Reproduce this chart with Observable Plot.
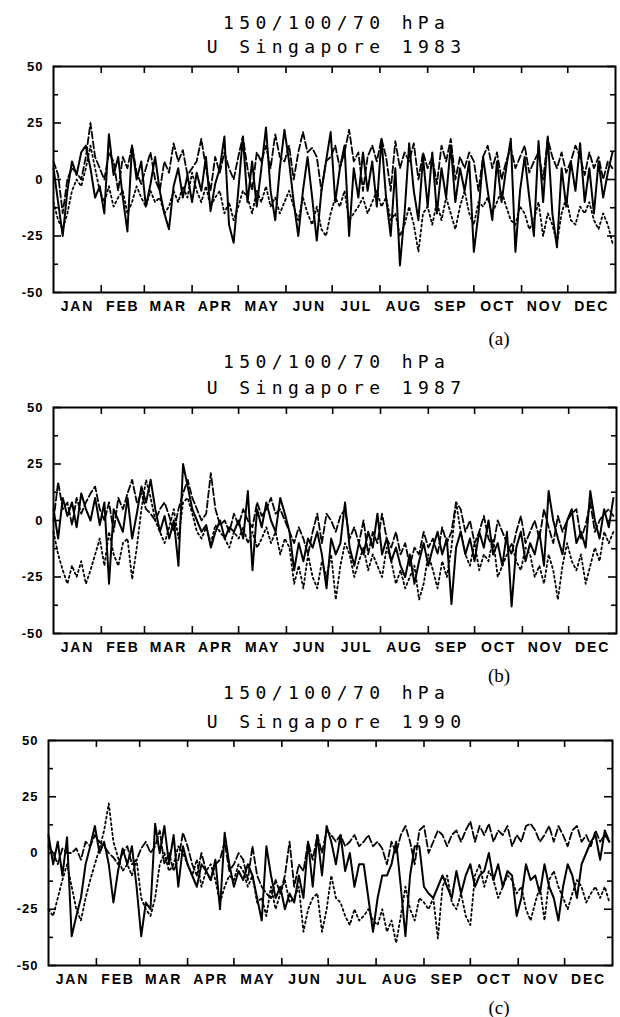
<!DOCTYPE html>
<html><head><meta charset="utf-8">
<script src="https://cdn.jsdelivr.net/npm/d3@7"></script>
<script src="https://cdn.jsdelivr.net/npm/@observablehq/plot@0.6"></script>
<style>
html,body{margin:0;padding:0;background:#fff;}
#root{position:relative;width:620px;height:1017px;overflow:hidden;}
.title{position:absolute;left:334px;transform:translate(-50%,-50%);font-family:"DejaVu Sans Mono",monospace;font-size:18px;letter-spacing:5.4px;padding-left:5.4px;white-space:nowrap;color:#000;line-height:1;}
.tag{position:absolute;transform:translate(-50%,-50%);font-family:"Liberation Serif",serif;font-size:19px;color:#000;line-height:1;}
.plot{position:absolute;left:0;}
.plot svg text{font-family:"Liberation Sans",Arial,sans-serif;font-weight:bold;fill:#000;}
.plot g[aria-label="x-axis tick label"] text{letter-spacing:1.8px;}
.plot g[aria-label="y-axis tick label"] text{letter-spacing:1px;}
</style></head><body><div id="root"></div>
<script>
// ---- sampling (every 3rd day of the year) ----
const sampleDays = d3.range(0, 364, 3);

// ---- tick / label arrays ----
const monthNames = ["JAN","FEB","MAR","APR","MAY","JUN","JUL","AUG","SEP","OCT","NOV","DEC"];
const monthStarts = [0,31,59,90,120,151,181,212,243,273,304,334,365];
const monthMid = [15.5,45,74.5,105,135.5,166,196.5,227.5,258,288.5,319,349.5];
const yMajor = [-50,-25,0,25,50];
const yMinor = [-37.5,-12.5,12.5,37.5];
const levels = "150/100/70 hPa";

// ---- 1983 (a) zonal wind, m/s ----
const aSolid = [5,-10,-25,-5,8,2,12,15,5,-8,
 -3,-15,20,2,10,-8,-23,15,0,8,
 -12,-2,10,-5,-15,-22,-3,5,-8,2,
 -10,3,-5,10,-14,-2,5,19,-20,-28,
 -5,19,-10,8,-12,5,23,-5,-18,5,
 22,8,-10,-25,-5,10,-8,-27,-5,8,
 21,-10,5,15,-25,5,-8,12,-5,8,
 -12,18,-8,-25,5,-38,-15,16,-5,-18,
 10,-12,12,-15,5,-8,15,-10,5,-5,
 8,-32,-15,10,-5,-18,8,-10,5,18,
 -32,-5,10,-8,-25,17,-10,19,-15,-30,
 5,-12,8,-5,16,-10,5,-15,8,-8,
 3,12];
const aDashed = [8,2,-15,0,5,3,0,10,25,10,
 5,0,12,8,-5,10,5,15,3,-2,
 5,12,0,-5,8,3,16,8,13,2,
 5,8,18,5,-5,10,3,12,5,0,
 10,19,5,-5,12,8,15,5,20,10,
 8,15,0,12,21,12,14,10,-5,8,
 10,15,5,12,22,8,12,-5,10,15,
 8,18,10,-5,17,5,12,8,16,0,
 12,5,10,-2,15,8,18,0,10,5,
 12,8,-5,10,15,5,12,0,8,14,
 5,10,15,3,8,12,0,18,10,5,
 12,3,8,15,10,2,12,5,10,0,
 8,5];
const aDotted = [-10,-18,-22,-15,-5,0,-3,5,15,5,
 -5,-10,-3,-12,-8,-5,-15,-10,-3,-8,
 -12,-5,-10,-8,-15,-12,-5,-10,-3,-8,
 3,-5,-10,-3,-12,-8,-5,-15,-10,-18,
 -12,-5,-8,-15,-5,-10,-3,-12,-8,-15,
 -10,-5,-12,-18,-8,-15,-20,-12,-22,-25,
 -15,-8,-12,-5,-18,-15,-12,-8,-15,-10,
 -5,-12,-8,-18,-15,-25,-20,-12,-20,-32,
 -15,-12,-20,-10,-18,-8,-15,-22,-12,-5,
 -15,-20,-10,-12,-8,-15,-10,-5,-12,-18,
 -20,-12,-15,-22,-18,-10,-25,-15,-20,-28,
 -15,-8,-18,-20,-12,-15,-10,-18,-22,-15,
 -20,-28];

// ---- 1987 (b) ----
const bSolid = [5,-8,10,2,8,-3,12,5,0,10,
 -2,8,-28,5,0,-5,10,-8,3,15,
 8,18,5,-5,2,-8,0,-20,25,15,
 5,0,-5,-2,-12,-5,0,-8,-3,-5,
 0,-8,13,-22,5,-3,8,0,-5,10,
 3,-5,-22,-10,-18,-8,-12,-5,-15,-30,
 -8,-15,-10,8,-12,-20,-10,-15,-5,-12,
 3,-15,-8,-18,-12,-20,-25,-15,-28,-18,
 -10,-20,-12,-5,-15,-8,-37,-12,-5,-15,
 -8,-18,-5,-12,0,-15,-10,-20,-5,-38,
 -12,-5,-18,-10,-15,-5,-20,13,0,-8,
 -15,0,5,-10,-5,-12,13,0,-8,5,
 -3,10];
const bDashed = [0,17,5,8,-2,10,3,8,12,15,
 5,0,8,-5,10,5,12,18,8,12,
 5,3,0,5,8,2,-5,5,12,18,
 10,5,0,3,21,5,-2,0,-5,3,
 -2,5,0,-3,8,2,5,10,3,5,
 0,-5,-10,-3,-8,-15,-5,3,-10,3,
 0,-5,2,5,-8,-3,-10,0,-15,-5,
 -10,3,-8,-12,-5,-15,-10,-20,-12,-15,
 -5,-12,-8,-15,-3,-10,-5,8,5,-5,
 0,-10,-5,2,-8,-12,0,-5,-10,-15,
 -5,2,-10,-5,0,-8,5,-3,-10,2,
 -5,0,3,5,-8,-2,8,-5,0,3,
 5,2];
const bDotted = [-5,-15,-22,-28,-20,-25,-18,-28,-22,-15,
 -8,-20,-5,-15,-20,-10,-8,-26,-12,5,
 18,10,0,-5,-10,-3,5,-8,8,10,
 3,-5,-8,-3,-10,-2,-5,-8,-12,-5,
 -8,-3,-10,-5,-12,-8,-3,-10,-5,-15,
 -8,-12,-28,-20,-30,-15,-25,-30,-18,-25,
 -15,-35,-20,-10,-15,-25,-18,-12,-22,-15,
 -20,-25,-12,-18,-28,-22,-30,-25,-20,-35,
 -28,-15,-22,-30,-18,-25,-12,8,-5,-15,
 -20,-10,-22,-15,-18,-8,-25,-20,-15,-10,
 -18,-22,-12,-15,-25,-20,-28,-15,-22,-35,
 -20,-10,-18,-22,-15,-28,-20,-12,-18,-5,
 -10,-5];

// ---- 1990 (c) ----
const cSolid = [8,-5,5,-10,7,-37,-28,-20,-5,3,
 12,0,5,-5,-22,-8,2,-5,3,-15,
 -37,-22,-25,13,0,12,-5,8,-15,3,
 -5,-10,-15,-5,-8,-12,-3,-25,9,-5,
 -15,-8,-12,-5,-10,-20,-30,3,-10,-20,
 -15,-25,-18,-22,-10,-20,5,-15,8,-10,
 12,5,-5,8,-8,0,-15,-5,-5,-20,
 -35,-20,-10,-10,-5,5,-15,-37,-10,3,
 3,-15,-18,-20,-15,-10,-15,-20,-8,-18,
 -10,-5,-15,-10,-8,0,-12,-5,-15,-8,
 -10,-28,-20,-5,-12,-10,-18,-5,-15,-20,
 -30,-15,-5,-10,-20,-5,0,5,8,-3,
 10,5];
const cDashed = [3,0,-5,2,0,0,2,-3,5,3,
 8,5,3,0,-2,-5,0,3,-5,-3,
 2,5,0,3,10,-5,0,-8,-3,9,
 3,-5,-10,0,-8,-12,-5,-3,5,-8,
 -5,0,-3,-12,3,-10,-15,-18,-20,-12,
 -18,-10,5,-15,-5,-8,5,-3,8,0,
 10,8,5,8,3,5,8,3,5,8,
 3,5,2,-5,5,0,8,12,5,-5,
 10,12,0,5,10,8,3,8,10,5,
 10,14,5,12,8,13,5,10,8,12,
 3,8,5,12,13,10,5,8,12,5,
 12,8,3,10,12,5,8,3,10,5,
 8,5];
const cDotted = [-25,-28,-20,-12,-5,-15,-25,-30,-20,-12,
 -5,2,10,22,5,-2,-8,-5,-10,-3,
 -20,-25,-28,-20,-5,0,-8,-5,3,0,
 -5,-10,-3,-15,-8,-5,-12,-22,-15,-10,
 -12,-5,-8,-15,-10,-22,-20,-28,-15,-25,
 -18,-12,-22,-20,-15,-35,-25,-20,-18,-35,
 -25,-10,-20,-22,-28,-32,-25,-30,-28,-25,
 -30,-32,-25,-35,-30,-40,-28,-15,-25,-30,
 -20,-22,-25,-20,-38,-15,-10,-22,-25,-18,
 -28,-32,-10,-5,-15,-8,-12,-20,-15,-10,
 -12,-18,-15,-25,-30,-22,-15,-30,-12,-8,
 -15,-20,-25,-18,-12,-15,-22,-18,-15,-20,
 -15,-22];

const panels = [
  {year:"1983", tag:"(a)", series:[aSolid,aDashed,aDotted], frameTop:66, frameBottom:292, left:53, right:615, t1:23, t2:47, tagX:499, tagY:338},
  {year:"1987", tag:"(b)", series:[bSolid,bDashed,bDotted], frameTop:407, frameBottom:633, left:53, right:616, t1:362, t2:388, tagX:499, tagY:675},
  {year:"1990", tag:"(c)", series:[cSolid,cDashed,cDotted], frameTop:740, frameBottom:965, left:48, right:612, t1:693, t2:722, tagX:499, tagY:1007}
];
const dashes = [null, "7,3", "2,3"];

const root = document.getElementById("root");

for (const p of panels) {
  const t1 = document.createElement("div");
  t1.className = "title"; t1.style.top = p.t1 + "px"; t1.textContent = levels;
  const t2 = document.createElement("div");
  t2.className = "title"; t2.style.top = p.t2 + "px"; t2.textContent = "U Singapore " + p.year;
  root.append(t1, t2);

  const mt = 6, mb = 34;
  const h = p.frameBottom - p.frameTop;
  const pxDay = (p.right - p.left) / 365;
  const pxU = h / 100;
  const major = 8 / pxDay, minor = 5 / pxDay, xt = 7 / pxU;

  const lineMarks = p.series.map((vals, k) =>
    Plot.line(vals.map((u, i) => ({day: sampleDays[i], u})), {
      x: "day", y: "u", stroke: "black", strokeWidth: k === 0 ? 2 : 1.8,
      strokeDasharray: dashes[k], strokeLinejoin: "round"
    })
  );

  const chart = Plot.plot({
    width: 620,
    height: mt + h + mb,
    marginTop: mt, marginBottom: mb,
    marginLeft: p.left, marginRight: 620 - p.right,
    x: {domain: [0, 365], label: null},
    y: {domain: [-50, 50], label: null},
    marks: [
      ...lineMarks,
      Plot.ruleY(yMajor, {x1: 0, x2: major, stroke: "black", strokeWidth: 1.6}),
      Plot.ruleY(yMinor, {x1: 0, x2: minor, stroke: "black", strokeWidth: 1.6}),
      Plot.ruleY(yMajor, {x1: 365 - major, x2: 365, stroke: "black", strokeWidth: 1.6}),
      Plot.ruleY(yMinor, {x1: 365 - minor, x2: 365, stroke: "black", strokeWidth: 1.6}),
      Plot.ruleX(monthStarts.slice(1, -1), {y1: -50, y2: -50 + xt, stroke: "black", strokeWidth: 1.6}),
      Plot.ruleX(monthStarts.slice(1, -1), {y1: 50 - xt, y2: 50, stroke: "black", strokeWidth: 1.6}),
      Plot.frame({stroke: "black", strokeWidth: 2}),
      Plot.axisY({ticks: yMajor, tickSize: 0, tickPadding: 10, fontSize: 13, label: null, tickFormat: d => String(d)}),
      Plot.axisX({ticks: monthMid, tickSize: 0, tickPadding: 9, fontSize: 14, label: null, tickFormat: d => monthNames[monthMid.indexOf(d)]})
    ]
  });
  const wrap = document.createElement("div");
  wrap.className = "plot";
  wrap.style.top = (p.frameTop - mt) + "px";
  wrap.append(chart);
  root.append(wrap);

  const tag = document.createElement("div");
  tag.className = "tag"; tag.style.left = p.tagX + "px"; tag.style.top = p.tagY + "px";
  tag.textContent = p.tag;
  root.append(tag);
}
</script>
</body></html>
